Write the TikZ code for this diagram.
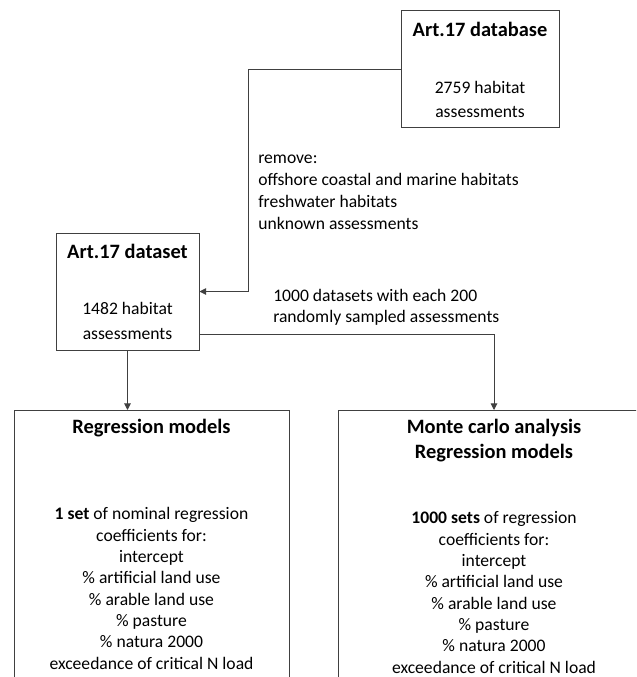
\documentclass[tikz,border=0pt]{standalone}
\usepackage{fontspec}
\setmainfont{Carlito}
\usetikzlibrary{arrows.meta,positioning,calc}

\newcommand{\boxtitle}[1]{{\fontsize{15.3}{16}\selectfont\bfseries #1}}

\begin{document}
\begin{tikzpicture}[
    x=0.75pt, y=-0.75pt,
    font=\fontsize{13.2}{16}\selectfont,
    box/.style={draw=black!75, line width=0.75pt, align=center, inner sep=0pt},
    bigbox/.style={draw=black!75, line width=0.75pt, anchor=north, minimum height=230pt},
    txt/.style={align=center, inner sep=0pt},
    note/.style={align=left, inner sep=0pt, anchor=north west},
    arr/.style={-{Triangle[length=5pt,width=5pt]}, line width=0.75pt, draw=black!75}
  ]
    \useasboundingbox (0,0) rectangle (636,677);
    \clip (0,0) rectangle (636,677);

    \node[box, minimum width=118.5pt, minimum height=87.75pt] (db) at (480,69.5)
      {\boxtitle{Art.17 database}\\[26.75pt]2759 habitat\\[2pt]assessments};
    \node[box, minimum width=107.25pt, minimum height=87.75pt] (ds) at (127.5,291.5)
      {\boxtitle{Art.17 dataset}\\[26pt]1482 habitat\\[2.75pt]assessments};

    \node[note] (rm) at (258,155)
      {remove:\\[0.5pt]offshore coastal and marine habitats\\[0.5pt]freshwater habitats\\[0.5pt]unknown assessments};
    \node[note] (smp) at (273,289)
      {1000 datasets with each 200\\randomly sampled assessments};

    \node[bigbox, minimum width=206.25pt] (reg) at (151.5,410) {};
    \node[txt, below=7pt of reg.north] (regtxt)
      {\boxtitle{Regression models}\\[48.5pt]\textbf{1 set} of nominal regression\\coefficients for:\\intercept\\\% artificial land use\\\% arable land use\\\% pasture\\\% natura 2000\\exceedance of critical N load};

    \node[bigbox, minimum width=234pt] (mc) at (494,410) {};
    \node[txt, below=7pt of mc.north] (mctxt)
      {\boxtitle{Monte carlo analysis}\\[2.75pt]\boxtitle{Regression models}\\[32.75pt]\textbf{1000 sets} of regression\\coefficients for:\\intercept\\\% artificial land use\\\% arable land use\\\% pasture\\\% natura 2000\\exceedance of critical N load};

    \coordinate (bend) at (248,0);
    \draw[arr] (db.west) -| (bend |- ds.east) -- (ds.east);
    \draw[arr] ([yshift=-32.6pt]ds.east) -| (mc.north);
    \draw[arr] (ds.south) -- (ds.south |- reg.north);
  \end{tikzpicture}
\end{document}
